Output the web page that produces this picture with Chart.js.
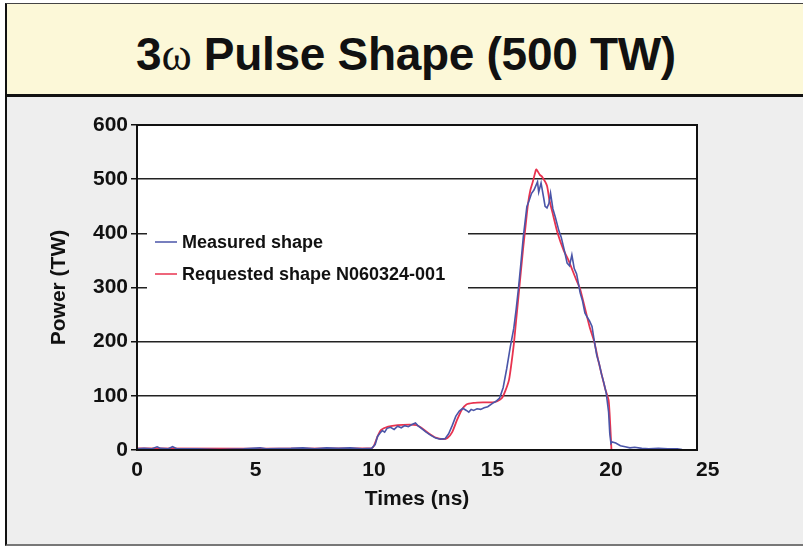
<!DOCTYPE html>
<html>
<head>
<meta charset="utf-8">
<script src="https://cdn.jsdelivr.net/npm/chart.js@4.4.1/dist/chart.umd.min.js"></script>
<style>
  body { margin: 0; width: 803px; height: 548px; background: #fff; position: relative; overflow: hidden;
         font-family: 'Liberation Sans', Arial, Helvetica, sans-serif; }
  #head { position: absolute; left: 5px; top: 3px; width: 798px; height: 90px; background: #fcf8d8;
          border-top: 1px solid #444; border-left: 2px solid #111; border-bottom: 3px solid #111; }
  #head h1 { margin: 0; position: absolute; left: 0; right: 0; top: 23px; text-align: center;
             font-size: 46px; font-weight: bold; color: #111; letter-spacing: -0.3px; }
  #head h1 .om { font-family: 'Liberation Serif', 'DejaVu Serif', serif; font-weight: normal; }
  #panel { position: absolute; left: 5px; top: 97px; width: 798px; height: 447px; background: #eeeeee;
           border-left: 2px solid #111; border-bottom: 2px solid #777; }
  #chart { position: absolute; left: 0; top: 0; }
</style>
</head>
<body>
<div id="head"><h1>3<span class="om">ω</span> Pulse Shape (500 TW)</h1></div>
<div id="panel"></div>
<canvas id="chart" width="803" height="548"></canvas>
<script>
// time in ns, power in TW
var measuredTime = [0, 0.3, 0.6, 0.85, 1.0, 1.3, 1.5, 1.7, 2.5, 3.5, 4.5, 5.2, 5.5, 6.5, 7.0, 7.5, 8.0, 8.5, 9.0, 9.5, 9.9,
    10.05, 10.15, 10.25, 10.35, 10.45, 10.55, 10.7, 10.85, 11.0, 11.15, 11.3, 11.45, 11.6, 11.75, 11.85, 12.0, 12.2, 12.4, 12.6, 12.8,
    13.0, 13.15, 13.3, 13.45, 13.6, 13.75, 13.9, 14.0, 14.1, 14.2, 14.35, 14.5, 14.65, 14.8, 15.0, 15.15, 15.3, 15.45, 15.6, 15.75,
    15.9, 16.0, 16.1, 16.2, 16.3, 16.45, 16.55, 16.65, 16.75, 16.85, 16.9, 16.95, 17.05, 17.15, 17.22, 17.3, 17.38, 17.45, 17.55,
    17.65, 17.8, 17.9, 18.05, 18.15, 18.25, 18.35, 18.45, 18.55, 18.7, 18.8, 18.9, 19.0, 19.1, 19.2, 19.3, 19.4, 19.5, 19.6, 19.7,
    19.8, 19.9, 19.95, 20.0, 20.05, 20.2, 20.4, 20.6, 20.8, 21.0, 21.3, 21.6, 22.0, 22.4, 22.8, 23.0];
var measuredPower = [2, 3, 2, 6, 3, 2, 6, 2, 2, 1, 2, 4, 2, 3, 4, 2, 4, 3, 4, 2, 3,
    10, 25, 31, 36, 33, 40, 42, 38, 44, 41, 45, 43, 47, 50, 45, 40, 33, 27, 22, 20,
    21, 30, 45, 62, 72, 77, 73, 70, 75, 73, 76, 75, 78, 80, 86, 90, 96, 115, 150, 190,
    225, 260, 300, 345, 393, 449, 461, 474, 480, 490, 495, 476, 493, 468, 450, 447, 455, 474, 445,
    430, 405, 393, 365, 345, 340, 360, 335, 325, 290, 275, 253, 245, 238, 228, 200, 175, 160, 140, 124,
    105, 70, 30, 12, 15, 13, 8, 6, 4, 5, 3, 2, 3, 2, 2, 1];

var requestedTime = [0, 9.9, 10.0, 10.15, 10.3, 10.6, 11.0, 11.5, 11.8, 12.0, 12.3, 12.6, 12.9, 13.1, 13.3, 13.5, 13.7, 13.9,
    14.2, 14.6, 15.0, 15.2, 15.4, 15.55, 15.7, 15.8, 15.9, 16.0, 16.1, 16.2, 16.3, 16.4, 16.5, 16.6, 16.7, 16.8, 16.85,
    17.0, 17.1, 17.3, 17.4, 17.55, 17.75, 18.0, 18.2, 18.5, 18.7, 19.1, 19.3, 19.45, 19.75, 19.9, 19.97, 20.02];
var requestedPower = [3, 3, 8, 25, 37, 43, 46, 47, 46, 41, 31, 23, 20, 22, 33, 55, 74, 84,
    87, 88, 88, 90, 96, 110, 130, 160, 195, 240, 285, 330, 375, 415, 455, 480, 495, 512, 518,
    508, 504, 488, 462, 435, 400, 369, 351, 318, 297, 227, 199, 168, 114, 92, 45, 0];

var xTicks = [0, 5, 10, 15, 20, 25];
var xTickLabels = ['0', '5', '10', '15', '20', '25'];
var yTicks = [0, 100, 200, 300, 400, 500, 600];

function pairs(xs, ys) {
    return xs.map(function (x, i) { return { x: x, y: ys[i] }; });
}

// white plot area + frame + legend box inside the plot
var plotDeco = {
    id: 'plotDeco',
    beforeDraw: function (chart) {
        var a = chart.chartArea, c = chart.ctx;
        c.save();
        c.fillStyle = '#ffffff';
        c.fillRect(a.left, a.top, a.right - a.left, a.bottom - a.top);
        c.restore();
    },
    beforeDatasetsDraw: function (chart) {
        var c = chart.ctx;
        c.save();
        c.fillStyle = '#ffffff';
        c.fillRect(147, 222, 321, 72);
        var ys = [242, 274];
        c.font = 'bold 18px "Liberation Sans", Arial, sans-serif';
        c.textBaseline = 'middle';
        chart.data.datasets.forEach(function (ds, i) {
            c.strokeStyle = ds.borderColor;
            c.lineWidth = 1.5;
            c.beginPath();
            c.moveTo(155, ys[i]);
            c.lineTo(177, ys[i]);
            c.stroke();
            c.fillStyle = '#111';
            c.fillText(ds.label, 182, ys[i] + 1);
        });
        c.restore();
    },
    afterDatasetsDraw: function (chart) {
        var a = chart.chartArea, c = chart.ctx;
        c.save();
        c.strokeStyle = '#111';
        c.lineWidth = 2;
        c.strokeRect(a.left, a.top, a.right - a.left, a.bottom - a.top);
        c.restore();
    }
};

Chart.defaults.font.family = '"Liberation Sans", Arial, sans-serif';
Chart.defaults.color = '#111';

var ctx = document.getElementById('chart').getContext('2d');
var chart = new Chart(ctx, {
    type: 'line',
    data: {
        datasets: [{
            label: 'Measured shape',
            data: pairs(measuredTime, measuredPower),
            borderColor: '#4a55a8',
            borderWidth: 1.6,
            pointRadius: 0,
            tension: 0
        }, {
            label: 'Requested shape N060324-001',
            data: pairs(requestedTime, requestedPower),
            borderColor: '#e8334f',
            borderWidth: 1.8,
            pointRadius: 0,
            tension: 0.2
        }]
    },
    options: {
        responsive: false,
        animation: false,
        layout: { padding: { top: 125, right: 106, left: 0, bottom: 0 } },
        plugins: {
            legend: { display: false },
            tooltip: { enabled: false }
        },
        scales: {
            x: {
                type: 'linear',
                min: 0,
                max: 23.63,
                afterBuildTicks: function (axis) {
                    // last label sits just past the plot edge, as in the slide
                    axis.ticks = xTicks.map(function (v) { return { value: Math.min(v, axis.max + 0.45) }; });
                },
                afterFit: function (axis) { axis.height = 98; },
                ticks: {
                    font: { size: 21, weight: 'bold' },
                    padding: 0,
                    maxRotation: 0,
                    callback: function (v, i) { return xTickLabels[i]; }
                },
                grid: { display: false },
                border: { display: false },
                title: {
                    display: true,
                    text: 'Times (ns)',
                    font: { size: 21, weight: 'bold' },
                    padding: { top: 0, bottom: 36 }
                }
            },
            y: {
                min: 0,
                max: 600,
                afterBuildTicks: function (axis) {
                    axis.ticks = yTicks.map(function (v) { return { value: v }; });
                },
                afterFit: function (axis) { axis.width = 137; },
                ticks: {
                    font: { size: 21, weight: 'bold' },
                    padding: 3
                },
                grid: { color: '#222', lineWidth: 1.5, tickLength: 6, tickColor: '#111' },
                border: { display: false },
                title: {
                    display: true,
                    text: 'Power (TW)',
                    font: { size: 21, weight: 'bold' },
                    padding: { top: 47, bottom: 0 }
                }
            }
        }
    },
    plugins: [plotDeco]
});
</script>
</body>
</html>
